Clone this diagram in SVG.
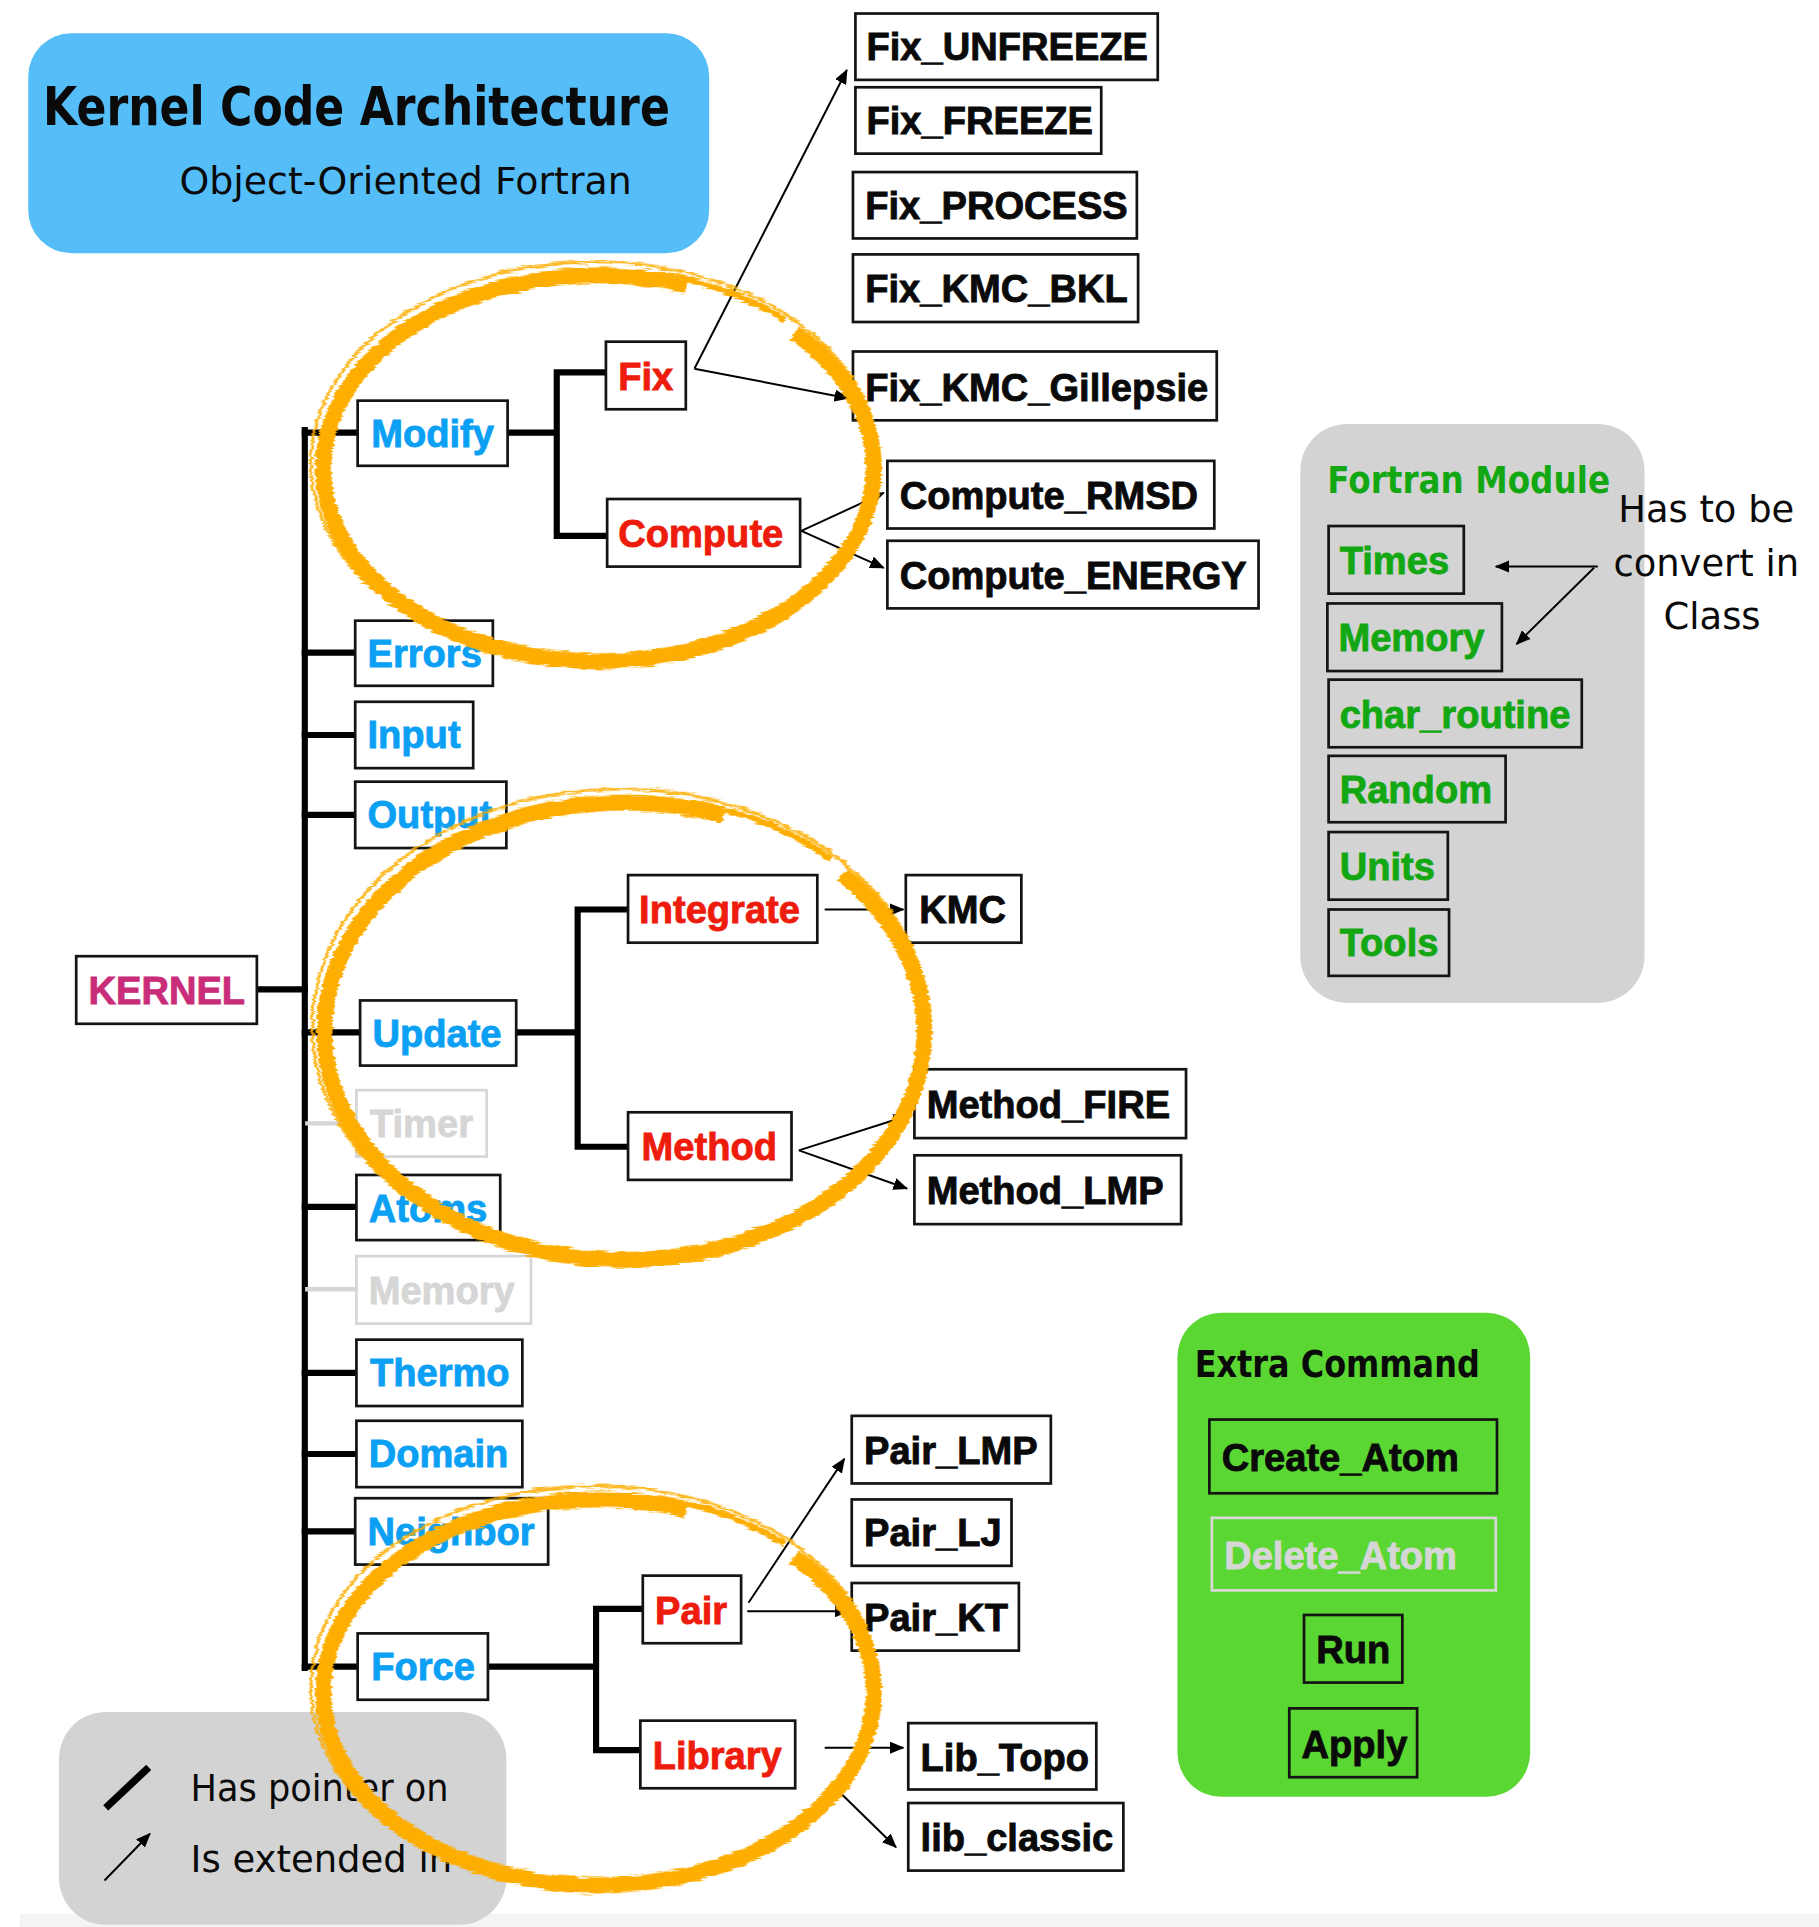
<svg xmlns="http://www.w3.org/2000/svg" width="1819" height="1927" viewBox="0 0 1819 1927">
  <style>
    .box { fill: #ffffff; stroke: #141414; stroke-width: 2.2; }
    .box.off { stroke: #d6d6d6; }
    .mbox { fill: none; stroke: #141414; stroke-width: 2.2; }
    .mbox.off { stroke: #d9d9d9; }
    .lbl { font-family: "Liberation Sans", Arial, sans-serif; font-weight: bold; font-size: 31px; stroke-width: 0.7px; paint-order: stroke; }
    .blue { fill: #0ba0f4; stroke: #0ba0f4; }
    .red { fill: #ee1c0d; stroke: #ee1c0d; }
    .dark { fill: #0a0a0a; stroke: #0a0a0a; }
    .green { fill: #13a813; stroke: #13a813; }
    .grey { fill: #d6d6d6; stroke: #d6d6d6; }
    .kernel { fill: #c92c78; stroke: #c92c78; }
    .hand { font-family: "DejaVu Sans", sans-serif; fill: #0a0a0a; }
    .trunk { fill: none; stroke: #000000; stroke-width: 5; stroke-linecap: square; }
    .trunk.off { stroke: #d6d6d6; stroke-width: 3.5; }
    .arrow { fill: none; stroke: #000000; stroke-width: 1.6; marker-end: url(#head); }
    .ring { fill: none; stroke: #fdae00; }
    .ring.main { stroke-width: 13; stroke-dasharray: 81 8 11; }
    .ring.mid { stroke-width: 5; stroke-dasharray: 0 79 9 12; }
    .ring.strand { stroke-width: 2.5; opacity: 0.85; }
  </style>
  <defs>
    <marker id="head" markerUnits="userSpaceOnUse" markerWidth="12" markerHeight="10" refX="11" refY="5" orient="auto">
      <path d="M0,0 L12,5 L0,10 z" fill="#000000"/>
    </marker>
    <filter id="brush" x="-10%" y="-10%" width="120%" height="120%">
      <feTurbulence type="fractalNoise" baseFrequency="0.06 0.5" numOctaves="2" seed="7" result="noise"/>
      <feDisplacementMap in="SourceGraphic" in2="noise" scale="5" xChannelSelector="R" yChannelSelector="G"/>
    </filter>
  </defs>

  <rect x="0" y="0" width="1819" height="1927" fill="#ffffff"/>

  <g transform="scale(1.22905)">
    <!-- faint strip along the bottom edge -->
    <rect x="16" y="1557" width="1464" height="12" fill="#f4f4f4"/>

    <!-- title banner -->
    <g id="title">
      <rect x="23" y="27" width="554" height="179" rx="35" fill="#55bef9"/>
      <text class="hand" x="35" y="102" font-size="44" font-weight="bold" textLength="510" lengthAdjust="spacingAndGlyphs">Kernel Code Architecture</text>
      <text class="hand" x="146" y="158" font-size="31" textLength="368" lengthAdjust="spacingAndGlyphs">Object-Oriented Fortran</text>
    </g>

    <!-- side panels -->
    <g id="fortran-module">
      <rect x="1058" y="345" width="280" height="471" rx="38" fill="#d3d3d3"/>
      <text class="hand" x="1080" y="401" font-size="30" font-weight="bold" style="fill:#13a813" textLength="230" lengthAdjust="spacingAndGlyphs">Fortran Module</text>
      <g id="mod-times"><rect class="mbox" x="1081" y="428" width="110" height="55"/><text class="lbl green" x="1090" y="467">Times</text></g>
      <g id="mod-memory"><rect class="mbox" x="1080" y="491" width="142" height="55"/><text class="lbl green" x="1089" y="530">Memory</text></g>
      <g id="mod-char"><rect class="mbox" x="1081" y="553" width="206" height="55"/><text class="lbl green" x="1090" y="592">char_routine</text></g>
      <g id="mod-random"><rect class="mbox" x="1081" y="615" width="144" height="54"/><text class="lbl green" x="1090" y="653">Random</text></g>
      <g id="mod-units"><rect class="mbox" x="1081" y="677" width="97" height="55"/><text class="lbl green" x="1090" y="716">Units</text></g>
      <g id="mod-tools"><rect class="mbox" x="1081" y="740" width="98" height="54"/><text class="lbl green" x="1090" y="778">Tools</text></g>
    </g>

    <g id="note">
      <text class="hand" font-size="30" text-anchor="middle">
        <tspan x="1393" y="425">Has to be</tspan>
        <tspan x="1393" y="469">convert in</tspan>
        <tspan x="1393" y="512">Class</tspan>
      </text>
    </g>

    <g id="extra-command">
      <rect x="958" y="1068" width="287" height="394" rx="36" fill="#5bd733"/>
      <text class="hand" x="972" y="1120" font-size="30" font-weight="bold" textLength="232" lengthAdjust="spacingAndGlyphs">Extra Command</text>
      <g id="cmd-create"><rect class="mbox" x="984" y="1155" width="234" height="60"/><text class="lbl dark" x="994" y="1197">Create_Atom</text></g>
      <g id="cmd-delete"><rect class="mbox off" x="986" y="1235" width="231" height="59"/><text class="lbl grey" x="996" y="1277">Delete_Atom</text></g>
      <g id="cmd-run"><rect class="mbox" x="1061" y="1314" width="80" height="55"/><text class="lbl dark" x="1071" y="1353">Run</text></g>
      <g id="cmd-apply"><rect class="mbox" x="1049" y="1390" width="104" height="56"/><text class="lbl dark" x="1059" y="1430">Apply</text></g>
    </g>

    <g id="legend">
      <rect x="48" y="1393" width="364" height="173" rx="38" fill="#d3d3d3"/>
      <line x1="86" y1="1471" x2="121" y2="1438" stroke="#000" stroke-width="6"/>
      <line x1="85" y1="1530" x2="122" y2="1492" class="arrow"/>
      <text class="hand" x="155" y="1465" font-size="30" textLength="210" lengthAdjust="spacingAndGlyphs">Has pointer on</text>
      <text class="hand" x="155" y="1523" font-size="30" textLength="213" lengthAdjust="spacingAndGlyphs">Is extended in</text>
    </g>

    <!-- tree links and arrows -->
    <g id="connectors">
      <path class="trunk" d="M248,350 V1357"/>
      <path class="trunk" d="M209,805 H248"/>
      <path class="trunk" d="M248,352 H291 M248,531 H289 M248,598 H289 M248,663 H289 M248,840 H293 M248,982 H290 M248,1117 H290 M248,1183 H290 M248,1246 H289 M248,1356 H291"/>
      <path class="trunk off" d="M250,914 H290 M250,1049 H290"/>
      <path class="trunk" d="M413,352 H453 M493,303 H453 V436 H494"/>
      <path class="trunk" d="M420,840 H470 M511,740 H470 V933 H511"/>
      <path class="trunk" d="M397,1356 H485 M523,1309 H485 V1424 H521"/>

      <path class="arrow" d="M565,300 L689,57"/>
      <path class="arrow" d="M565,300 L690,324"/>
      <path class="arrow" d="M652,432 L719,401"/>
      <path class="arrow" d="M652,432 L719,462"/>
      <path class="arrow" d="M671,740 L735,740"/>
      <path class="arrow" d="M650,936 L738,908"/>
      <path class="arrow" d="M650,936 L738,967"/>
      <path class="arrow" d="M609,1304 L687,1187"/>
      <path class="arrow" d="M608,1311 L690,1311"/>
      <path class="arrow" d="M671,1422 L735,1422"/>
      <path class="arrow" d="M683,1458 L729,1503"/>
      <path class="arrow" d="M1300,461 L1217,461"/>
      <path class="arrow" d="M1297,462 L1234,524"/>
    </g>

    <!-- root -->
    <g id="kernel"><rect class="box" x="62" y="778" width="147" height="55"/><text class="lbl kernel" x="72" y="817">KERNEL</text></g>

    <!-- first level -->
    <g id="modify"><rect class="box" x="291" y="326" width="122" height="53"/><text class="lbl blue" x="302" y="364">Modify</text></g>
    <g id="errors"><rect class="box" x="289" y="505" width="112" height="53"/><text class="lbl blue" x="299" y="543">Errors</text></g>
    <g id="input"><rect class="box" x="289" y="571" width="96" height="54"/><text class="lbl blue" x="299" y="609">Input</text></g>
    <g id="output"><rect class="box" x="289" y="636" width="123" height="54"/><text class="lbl blue" x="299" y="674">Output</text></g>
    <g id="update"><rect class="box" x="293" y="814" width="127" height="53"/><text class="lbl blue" x="303" y="852">Update</text></g>
    <g id="timer"><rect class="box off" x="290" y="887" width="106" height="54"/><text class="lbl grey" x="301" y="925">Timer</text></g>
    <g id="atoms"><rect class="box" x="290" y="956" width="117" height="53"/><text class="lbl blue" x="300" y="994">Atoms</text></g>
    <g id="memory"><rect class="box off" x="290" y="1022" width="142" height="55"/><text class="lbl grey" x="300" y="1061">Memory</text></g>
    <g id="thermo"><rect class="box" x="290" y="1090" width="135" height="54"/><text class="lbl blue" x="301" y="1128">Thermo</text></g>
    <g id="domain"><rect class="box" x="290" y="1156" width="135" height="54"/><text class="lbl blue" x="300" y="1194">Domain</text></g>
    <g id="neighbor"><rect class="box" x="289" y="1219" width="157" height="54"/><text class="lbl blue" x="299" y="1257">Neighbor</text></g>
    <g id="force"><rect class="box" x="291" y="1329" width="106" height="54"/><text class="lbl blue" x="302" y="1367">Force</text></g>

    <!-- second level -->
    <g id="fix"><rect class="box" x="493" y="278" width="65" height="55"/><text class="lbl red" x="503" y="317">Fix</text></g>
    <g id="compute"><rect class="box" x="494" y="406" width="157" height="55"/><text class="lbl red" x="503" y="445">Compute</text></g>
    <g id="integrate"><rect class="box" x="511" y="712" width="154" height="55"/><text class="lbl red" x="520" y="751">Integrate</text></g>
    <g id="method"><rect class="box" x="511" y="905" width="133" height="55"/><text class="lbl red" x="522" y="944">Method</text></g>
    <g id="pair"><rect class="box" x="523" y="1282" width="80" height="55"/><text class="lbl red" x="533" y="1321">Pair</text></g>
    <g id="library"><rect class="box" x="521" y="1400" width="126" height="55"/><text class="lbl red" x="531" y="1439">Library</text></g>

    <!-- leaves -->
    <g id="fix-unfreeze"><rect class="box" x="696" y="11" width="246" height="54"/><text class="lbl dark" x="705" y="49">Fix_UNFREEZE</text></g>
    <g id="fix-freeze"><rect class="box" x="696" y="71" width="200" height="54"/><text class="lbl dark" x="705" y="109">Fix_FREEZE</text></g>
    <g id="fix-process"><rect class="box" x="694" y="140" width="231" height="54"/><text class="lbl dark" x="704" y="178">Fix_PROCESS</text></g>
    <g id="fix-kmc-bkl"><rect class="box" x="694" y="207" width="232" height="55"/><text class="lbl dark" x="704" y="246">Fix_KMC_BKL</text></g>
    <g id="fix-kmc-gillepsie"><rect class="box" x="694" y="286" width="296" height="56"/><text class="lbl dark" x="704" y="326">Fix_KMC_Gillepsie</text></g>
    <g id="compute-rmsd"><rect class="box" x="722" y="375" width="266" height="55"/><text class="lbl dark" x="732" y="414">Compute_RMSD</text></g>
    <g id="compute-energy"><rect class="box" x="722" y="440" width="302" height="55"/><text class="lbl dark" x="732" y="479">Compute_ENERGY</text></g>
    <g id="kmc"><rect class="box" x="737" y="712" width="94" height="55"/><text class="lbl dark" x="748" y="751">KMC</text></g>
    <g id="method-fire"><rect class="box" x="744" y="870" width="221" height="56"/><text class="lbl dark" x="754" y="910">Method_FIRE</text></g>
    <g id="method-lmp"><rect class="box" x="744" y="940" width="217" height="56"/><text class="lbl dark" x="754" y="980">Method_LMP</text></g>
    <g id="pair-lmp"><rect class="box" x="693" y="1152" width="162" height="55"/><text class="lbl dark" x="703" y="1191">Pair_LMP</text></g>
    <g id="pair-lj"><rect class="box" x="693" y="1220" width="130" height="54"/><text class="lbl dark" x="703" y="1258">Pair_LJ</text></g>
    <g id="pair-kt"><rect class="box" x="693" y="1288" width="136" height="55"/><text class="lbl dark" x="703" y="1327">Pair_KT</text></g>
    <g id="lib-topo"><rect class="box" x="739" y="1402" width="153" height="54"/><text class="lbl dark" x="749" y="1441">Lib_Topo</text></g>
    <g id="lib-classic"><rect class="box" x="739" y="1467" width="175" height="55"/><text class="lbl dark" x="749" y="1506">lib_classic</text></g>

    <!-- hand-drawn highlight rings: thick body, thinner tail into the break, loose outer strand -->
    <g id="rings" filter="url(#brush)">
      <ellipse class="ring main" cx="487" cy="381" rx="224" ry="157" pathLength="100"/>
      <ellipse class="ring mid" cx="487" cy="379" rx="226" ry="160" pathLength="100"/>
      <ellipse class="ring strand" cx="484" cy="377" rx="231" ry="164"/>
      <ellipse class="ring main" cx="508" cy="839" rx="244" ry="186" pathLength="100"/>
      <ellipse class="ring mid" cx="508" cy="837" rx="246" ry="189" pathLength="100"/>
      <ellipse class="ring strand" cx="505" cy="835" rx="251" ry="193"/>
      <ellipse class="ring main" cx="487" cy="1377" rx="224" ry="157" pathLength="100"/>
      <ellipse class="ring mid" cx="487" cy="1375" rx="226" ry="160" pathLength="100"/>
      <ellipse class="ring strand" cx="484" cy="1373" rx="231" ry="164"/>
    </g>
  </g>
</svg>
